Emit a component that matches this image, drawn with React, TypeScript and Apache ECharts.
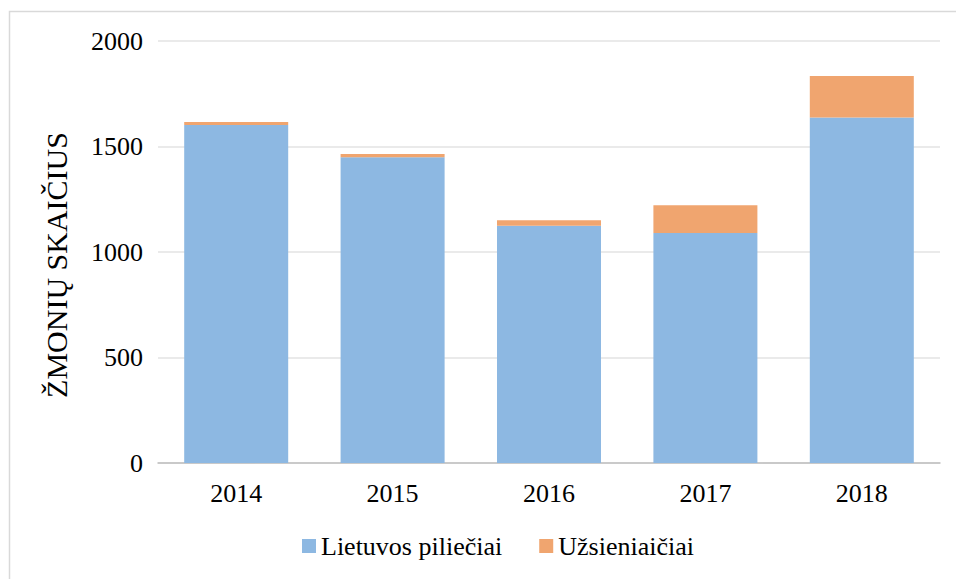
import React, { useEffect, useRef } from "react";
import * as echarts from "echarts";

const categories = ["2014", "2015", "2016", "2017", "2018"];
const citizens = [1602, 1449, 1124, 1090, 1638];
const foreigners = [14, 15, 27, 131, 196];
const seriesNames = ["Lietuvos piliečiai", "Užsieniaičiai"];
const yAxisTitle = "ŽMONIŲ SKAIČIUS";

const FONT = "Liberation Serif";

export default function App() {
  const ref = useRef<HTMLDivElement>(null);
  useEffect(() => {
    if (!ref.current) return;
    const chart = echarts.init(ref.current, null, { renderer: "svg" });
    chart.setOption({
      animation: false,
      backgroundColor: "#ffffff",
      textStyle: { fontFamily: FONT },
      graphic: [
        {
          type: "rect",
          shape: { x: 9.5, y: 11.5, width: 960, height: 600 },
          style: { fill: "none", stroke: "#d9d9d9", lineWidth: 1.5 },
          silent: true,
        },
      ],
      grid: { left: 158, right: 16, top: 41, bottom: 116 },
      legend: {
        bottom: 15,
        left: 297,
        itemWidth: 14,
        itemHeight: 14,
        itemGap: 37,
        icon: "rect",
        textStyle: { fontFamily: FONT, fontSize: 26, color: "#000000" },
        data: seriesNames,
      },
      xAxis: {
        type: "category",
        data: categories,
        axisLine: { lineStyle: { color: "#bfbfbf", width: 1.5 } },
        axisTick: { show: false },
        axisLabel: { fontFamily: FONT, fontSize: 26, color: "#000000", margin: 17 },
      },
      yAxis: {
        type: "value",
        min: 0,
        max: 2000,
        interval: 500,
        name: yAxisTitle,
        nameLocation: "middle",
        nameGap: 87,
        nameTextStyle: { fontFamily: FONT, fontSize: 30, color: "#000000", padding: [0, 26, 0, 0] },
        axisLine: { show: false },
        axisTick: { show: false },
        axisLabel: {
          fontFamily: FONT,
          fontSize: 26,
          color: "#000000",
          margin: 15,
          formatter: (v: number) => String(v),
        },
        splitLine: { lineStyle: { color: "#e3e3e3", width: 1.5 } },
      },
      series: [
        {
          name: seriesNames[0],
          type: "bar",
          stack: "total",
          barWidth: "66.5%",
          data: citizens,
          itemStyle: { color: "#8db8e2" },
        },
        {
          name: seriesNames[1],
          type: "bar",
          stack: "total",
          barWidth: "66.5%",
          data: foreigners,
          itemStyle: { color: "#f0a56f" },
        },
      ],
    });
    return () => chart.dispose();
  }, []);
  return (
    <div
      ref={ref}
      style={{ position: "fixed", left: 0, top: 0, width: 956, height: 579 }}
    />
  );
}
